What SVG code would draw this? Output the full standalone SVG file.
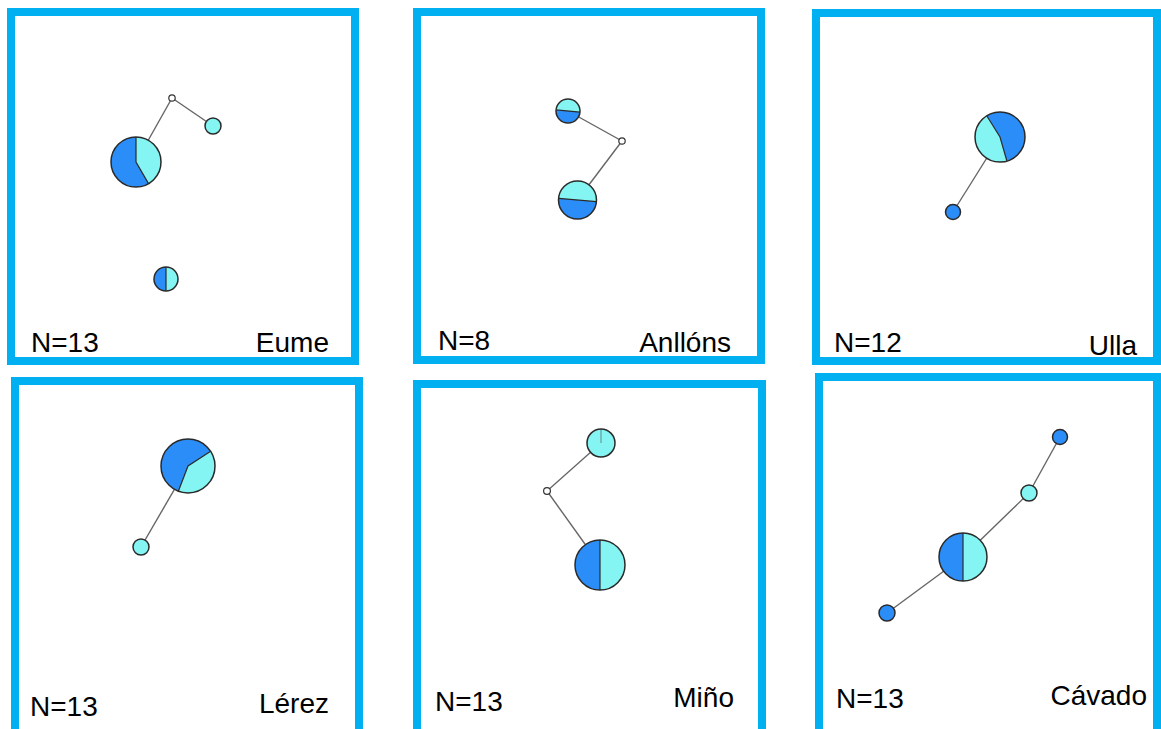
<svg xmlns="http://www.w3.org/2000/svg" width="1161" height="729" viewBox="0 0 1161 729">
  <style>
    .frame { fill: #ffffff; stroke: #00b0f0; stroke-width: 8; }
    .lbl { font-family: "Liberation Sans", Arial, sans-serif; font-size: 28px; fill: #000000; }
    .end { text-anchor: end; }
    .edge { stroke: #666666; stroke-width: 1.4; fill: none; }
    .blue { fill: #2b8ef8; }
    .cyan { fill: #84f5f2; }
    .ring { fill: none; stroke: #2a2a2a; stroke-width: 1.5; }
    .cut { fill: none; stroke: #2a2a2a; stroke-width: 1.2; }
    .hub { fill: #ffffff; stroke: #333333; stroke-width: 1.2; }
    .dot { stroke: #2a2a2a; stroke-width: 1.5; }
  </style>

  <rect width="1161" height="729" fill="#ffffff"/>

  <!-- panel frames -->
  <g id="frames">
    <rect class="frame" x="11" y="12" width="344" height="349"/>
    <rect class="frame" x="417" y="12" width="344" height="348"/>
    <rect class="frame" x="816" y="13" width="341" height="348"/>
    <rect class="frame" x="15" y="381" width="344" height="360"/>
    <rect class="frame" x="417" y="384" width="345" height="360"/>
    <rect class="frame" x="819" y="377" width="338" height="360"/>
  </g>

  <!-- network edges -->
  <g id="connectors">
    <line class="edge" x1="136" y1="162" x2="172" y2="98"/>
    <line class="edge" x1="172" y1="98" x2="213" y2="126"/>
    <line class="edge" x1="568" y1="111" x2="622" y2="141"/>
    <line class="edge" x1="622" y1="141" x2="577.5" y2="200"/>
    <line class="edge" x1="953" y1="212" x2="1000" y2="137"/>
    <line class="edge" x1="141" y1="547" x2="188" y2="466"/>
    <line class="edge" x1="601" y1="443" x2="547" y2="491"/>
    <line class="edge" x1="547" y1="491" x2="600" y2="565"/>
    <line class="edge" x1="1060" y1="437" x2="1029" y2="493"/>
    <line class="edge" x1="1029" y1="493" x2="963" y2="557"/>
    <line class="edge" x1="963" y1="557" x2="887" y2="613"/>
  </g>

  <!-- Eume -->
  <g id="eume">
    <g id="eume-h1">
      <path class="cyan" d="M136,162 L136,137 A25,25 0 0 1 148.5,183.65 Z"/>
      <path class="blue" d="M136,162 L148.5,183.65 A25,25 0 1 1 136,137 Z"/>
      <path class="cut" d="M136,137 L136,162 L148.5,183.65"/>
      <circle class="ring" cx="136" cy="162" r="25"/>
    </g>
    <circle id="eume-mv" class="hub" cx="172" cy="98" r="3.2"/>
    <circle id="eume-h2" class="cyan dot" cx="213" cy="126" r="8"/>
    <g id="eume-h3">
      <path class="blue" d="M166,267 A12,12 0 0 0 166,291 Z"/>
      <path class="cyan" d="M166,267 A12,12 0 0 1 166,291 Z"/>
      <line class="cut" x1="166" y1="267" x2="166" y2="291"/>
      <circle class="ring" cx="166" cy="279" r="12"/>
    </g>
    <text class="lbl" x="31" y="352">N=13</text>
    <text class="lbl end" x="329" y="352">Eume</text>
  </g>

  <!-- Anllóns -->
  <g id="anllons">
    <g id="anllons-h1">
      <path class="cyan" d="M568,111 L556.05,109.95 A12,12 0 0 1 579.95,112.05 Z"/>
      <path class="blue" d="M568,111 L579.95,112.05 A12,12 0 0 1 556.05,109.95 Z"/>
      <line class="cut" x1="556.05" y1="109.95" x2="579.95" y2="112.05"/>
      <circle class="ring" cx="568" cy="111" r="12"/>
    </g>
    <circle id="anllons-mv" class="hub" cx="622" cy="141" r="3.2"/>
    <g id="anllons-h2">
      <path class="cyan" d="M577.5,200 L558.57,198.34 A19,19 0 0 1 596.43,201.66 Z"/>
      <path class="blue" d="M577.5,200 L596.43,201.66 A19,19 0 0 1 558.57,198.34 Z"/>
      <line class="cut" x1="558.57" y1="198.34" x2="596.43" y2="201.66"/>
      <circle class="ring" cx="577.5" cy="200" r="19"/>
    </g>
    <text class="lbl" x="438" y="350">N=8</text>
    <text class="lbl end" x="731" y="352">Anllóns</text>
  </g>

  <!-- Ulla -->
  <g id="ulla">
    <g id="ulla-h1">
      <path class="blue" d="M1000,137 L986.75,115.8 A25,25 0 1 1 1006.89,161.03 Z"/>
      <path class="cyan" d="M1000,137 L1006.89,161.03 A25,25 0 0 1 986.75,115.8 Z"/>
      <path class="cut" d="M986.75,115.8 L1000,137 L1006.89,161.03"/>
      <circle class="ring" cx="1000" cy="137" r="25"/>
    </g>
    <circle id="ulla-h2" class="blue dot" cx="953" cy="212" r="7.5"/>
    <text class="lbl" x="834" y="352">N=12</text>
    <text class="lbl end" x="1137" y="355">Ulla</text>
  </g>

  <!-- Lérez -->
  <g id="lerez">
    <g id="lerez-h1">
      <path class="cyan" d="M188,466 L210.64,451.3 A27,27 0 0 1 178.32,491.21 Z"/>
      <path class="blue" d="M188,466 L178.32,491.21 A27,27 0 1 1 210.64,451.3 Z"/>
      <path class="cut" d="M210.64,451.3 L188,466 L178.32,491.21"/>
      <circle class="ring" cx="188" cy="466" r="27"/>
    </g>
    <circle id="lerez-h2" class="cyan dot" cx="141" cy="547" r="8"/>
    <text class="lbl" x="30" y="716">N=13</text>
    <text class="lbl end" x="329" y="713">Lérez</text>
  </g>

  <!-- Miño -->
  <g id="mino">
    <g id="mino-h1">
      <circle class="cyan" cx="601" cy="443" r="14"/>
      <line x1="601" y1="429" x2="601" y2="443" stroke="#6a9a9a" stroke-width="1.2"/>
      <circle class="ring" cx="601" cy="443" r="14"/>
    </g>
    <circle id="mino-mv" class="hub" cx="547" cy="491" r="3.4"/>
    <g id="mino-h2">
      <path class="blue" d="M600,540 A25,25 0 0 0 600,590 Z"/>
      <path class="cyan" d="M600,540 A25,25 0 0 1 600,590 Z"/>
      <line class="cut" x1="600" y1="540" x2="600" y2="590"/>
      <circle class="ring" cx="600" cy="565" r="25"/>
    </g>
    <text class="lbl" x="435" y="711">N=13</text>
    <text class="lbl end" x="734" y="707">Miño</text>
  </g>

  <!-- Cávado -->
  <g id="cavado">
    <circle id="cavado-h1" class="blue dot" cx="1060" cy="437" r="7.5"/>
    <circle id="cavado-h2" class="cyan dot" cx="1029" cy="493" r="8"/>
    <g id="cavado-h3">
      <path class="blue" d="M963,533 A24,24 0 0 0 963,581 Z"/>
      <path class="cyan" d="M963,533 A24,24 0 0 1 963,581 Z"/>
      <line class="cut" x1="963" y1="533" x2="963" y2="581"/>
      <circle class="ring" cx="963" cy="557" r="24"/>
    </g>
    <circle id="cavado-h4" class="blue dot" cx="887" cy="613" r="8"/>
    <text class="lbl" x="836" y="708">N=13</text>
    <text class="lbl end" x="1147" y="705">Cávado</text>
  </g>
</svg>
